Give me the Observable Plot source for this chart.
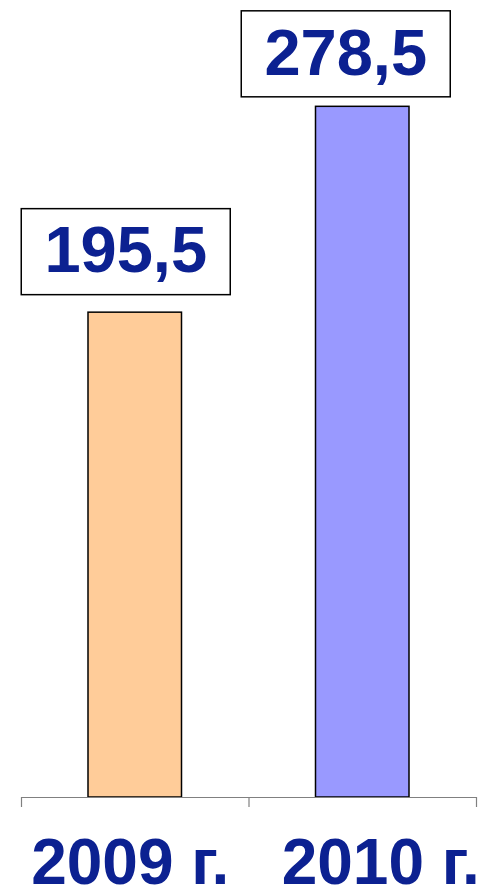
<!DOCTYPE html>
<html><head><meta charset="utf-8">
<script src="https://cdn.jsdelivr.net/npm/d3@7"></script>
<script src="https://cdn.jsdelivr.net/npm/@observablehq/plot@0.6"></script>
<style>body{margin:0;background:#fff} svg{display:block}</style>
</head><body><div id="chart"></div>
<script>
const categories = ["2009 г.", "2010 г."];
const values = [195.5, 278.5];
const valueLabels = ["195,5", "278,5"];
const colors = ["#FFCC99", "#9999FF"];

const data = categories.map((c, i) => ({category: c, index: i, value: values[i], label: valueLabels[i], color: colors[i]}));
const textColor = "#0c2191";
const font = "'Liberation Sans', Arial, Helvetica, sans-serif";

const valueOffsets = [{dx: -9.5, dy: -61}, {dx: -17, dy: -53}];
const catOffsets = [-5, 18];

const plot = Plot.plot({
  width: 479, height: 890,
  marginLeft: 21, marginRight: 3, marginTop: 53, marginBottom: 93,
  style: {fontFamily: font, background: "#fff", overflow: "visible"},
  x: {type: "linear", domain: [0, 2], axis: null},
  y: {domain: [0, 300], axis: null},
  color: {type: "identity"},
  marks: [
    Plot.rectY(data, {x1: "index", x2: d => d.index + 1, y: "value", fill: "color", stroke: "#000", strokeWidth: 1.5, insetLeft: 67, insetRight: 67}),
    Plot.ruleY([0], {stroke: "#808080", strokeWidth: 1.2}),
    Plot.axisX({ticks: [0, 1, 2], tickSize: 10, tickFormat: () => "", label: null, stroke: "#808080", strokeWidth: 1.2}),
    ...data.map((d, i) => Plot.text([d], {
      x: e => e.index + 0.5, y: "value", text: "label",
      dx: valueOffsets[i].dx, dy: valueOffsets[i].dy, lineAnchor: "middle",
      fontSize: 65, fontWeight: "bold", fill: textColor
    })),
    ...data.map((d, i) => Plot.text([d], {
      x: e => e.index + 0.5, frameAnchor: "bottom", text: "category",
      dx: catOffsets[i], dy: 66, lineAnchor: "middle",
      fontSize: 64, fontWeight: "bold", fill: textColor
    }))
  ]
});
document.getElementById("chart").appendChild(plot);

// draw framed boxes around value labels
const svgRect = plot.getBoundingClientRect();
Array.from(plot.querySelectorAll("text"))
  .filter(t => valueLabels.includes(t.textContent))
  .forEach(t => {
    const r = t.getBoundingClientRect();
    const cx = r.left + r.width / 2 - svgRect.left;
    const cy = r.top + r.height / 2 - svgRect.top + 1.7;
    const bw = 209, bh = 86;
    const rect = document.createElementNS("http://www.w3.org/2000/svg", "rect");
    rect.setAttribute("x", cx - bw / 2);
    rect.setAttribute("y", cy - bh / 2);
    rect.setAttribute("width", bw);
    rect.setAttribute("height", bh);
    rect.setAttribute("fill", "#fff");
    rect.setAttribute("stroke", "#000");
    rect.setAttribute("stroke-width", 1.5);
    const g = t.closest("g");
    g.parentNode.insertBefore(rect, g);
  });
</script>
</body></html>
